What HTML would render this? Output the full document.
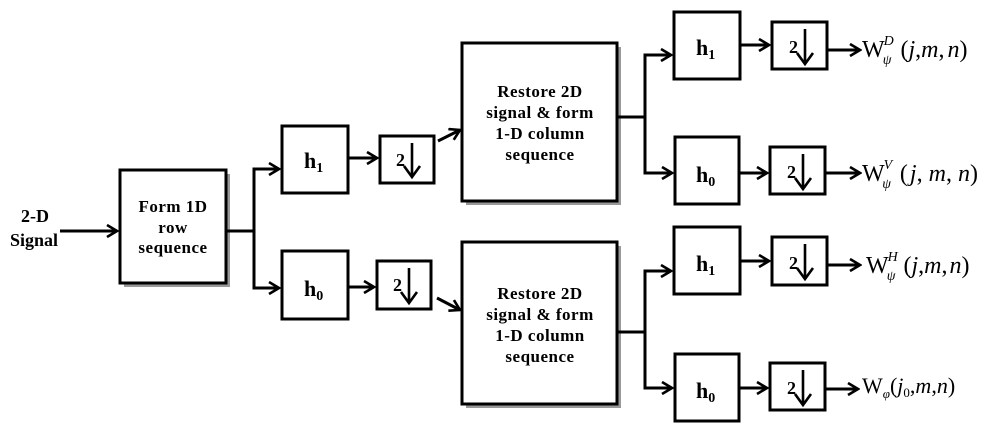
<!DOCTYPE html>
<html><head><meta charset="utf-8"><style>
html,body{margin:0;padding:0;background:#fff;width:1000px;height:431px;overflow:hidden}
svg{display:block}
text{font-family:"Liberation Serif",serif;fill:#000}
.b{font-weight:bold}
</style></head><body>
<svg width="1000" height="431" viewBox="0 0 1000 431" xmlns="http://www.w3.org/2000/svg">
<defs>
<marker id="a" markerWidth="14" markerHeight="14" refX="12" refY="7" orient="auto" markerUnits="userSpaceOnUse">
<path d="M2,1 L12,7 L2,13" fill="none" stroke="#000" stroke-width="2.6"/>
</marker>
</defs>
<g fill="none" stroke="#000" stroke-width="3">
<rect x="124" y="174" width="106" height="113" fill="#999" stroke="none"/>
<rect x="466" y="47" width="155" height="158" fill="#999" stroke="none"/>
<rect x="466" y="246" width="155" height="162" fill="#999" stroke="none"/>
<rect x="120" y="170" width="106" height="113" fill="#fff"/>
<rect x="462" y="43" width="155" height="158" fill="#fff"/>
<rect x="462" y="242" width="155" height="162" fill="#fff"/>
<rect x="282" y="126" width="66" height="67" fill="#fff"/>
<rect x="282" y="251" width="66" height="68" fill="#fff"/>
<rect x="380" y="136" width="54" height="47" fill="#fff"/>
<rect x="377" y="261" width="54" height="48" fill="#fff"/>
<rect x="674" y="12" width="66" height="67" fill="#fff"/>
<rect x="675" y="137" width="64" height="67" fill="#fff"/>
<rect x="772" y="22" width="55" height="47" fill="#fff"/>
<rect x="770" y="147" width="55" height="47" fill="#fff"/>
<rect x="674" y="227" width="66" height="67" fill="#fff"/>
<rect x="675" y="354" width="64" height="67" fill="#fff"/>
<rect x="772" y="237" width="55" height="48" fill="#fff"/>
<rect x="770" y="363" width="55" height="47" fill="#fff"/>
<line x1="60" y1="231" x2="117" y2="231" marker-end="url(#a)"/>
<path d="M226,231 H254 V169 H279" marker-end="url(#a)"/>
<path d="M254,231 V288 H279" marker-end="url(#a)"/>
<line x1="348" y1="158" x2="377" y2="158" marker-end="url(#a)"/>
<line x1="348" y1="287" x2="374" y2="287" marker-end="url(#a)"/>
<line x1="438" y1="141" x2="460" y2="130" marker-end="url(#a)"/>
<line x1="437" y1="298" x2="460" y2="310" marker-end="url(#a)"/>
<path d="M617,117 H645 V55 H671" marker-end="url(#a)"/>
<path d="M645,117 V173 H672" marker-end="url(#a)"/>
<path d="M617,332 H645 V271 H671" marker-end="url(#a)"/>
<path d="M645,332 V388 H672" marker-end="url(#a)"/>
<line x1="740" y1="45" x2="769" y2="45" marker-end="url(#a)"/>
<line x1="739" y1="173" x2="767" y2="173" marker-end="url(#a)"/>
<line x1="740" y1="261" x2="769" y2="261" marker-end="url(#a)"/>
<line x1="739" y1="388" x2="767" y2="388" marker-end="url(#a)"/>
<line x1="827" y1="50" x2="860" y2="50" marker-end="url(#a)"/>
<line x1="825" y1="173" x2="860" y2="173" marker-end="url(#a)"/>
<line x1="827" y1="265" x2="860" y2="265" marker-end="url(#a)"/>
<line x1="825" y1="389" x2="858" y2="389" marker-end="url(#a)"/>
</g>
<text class="b" x="35" y="222" font-size="18" text-anchor="middle">2-D</text>
<text class="b" x="34" y="246" font-size="18" text-anchor="middle">Signal</text>
<g class="b" font-size="17" text-anchor="middle" letter-spacing="0.5">
<text x="173" y="212">Form 1D</text>
<text x="173" y="233">row</text>
<text x="173" y="253">sequence</text>
<text x="540" y="97">Restore 2D</text>
<text x="540" y="118">signal &amp; form</text>
<text x="540" y="139">1-D column</text>
<text x="540" y="160">sequence</text>
<text x="540" y="299">Restore 2D</text>
<text x="540" y="320">signal &amp; form</text>
<text x="540" y="341">1-D column</text>
<text x="540" y="362">sequence</text>
</g>
<g class="b" font-size="22">
<text x="304" y="168">h<tspan font-size="14" dy="4">1</tspan></text>
<text x="304" y="296">h<tspan font-size="14" dy="4">0</tspan></text>
<text x="696" y="55">h<tspan font-size="14" dy="4">1</tspan></text>
<text x="696" y="182">h<tspan font-size="14" dy="4">0</tspan></text>
<text x="696" y="271">h<tspan font-size="14" dy="4">1</tspan></text>
<text x="696" y="398">h<tspan font-size="14" dy="4">0</tspan></text>
</g>
<g class="b" font-size="18">
<text x="396" y="166">2</text><text x="393" y="291">2</text>
<text x="789" y="53">2</text><text x="787" y="178">2</text>
<text x="789" y="269">2</text><text x="787" y="394">2</text>
</g>
<g fill="none" stroke="#000" stroke-width="2.6">
<path d="M412,143 V176 M404,166 L412,177 L420,166"/>
<path d="M409,268 V302 M401,292 L409,303 L417,292"/>
<path d="M805,29 V63 M797,53 L805,64 L813,53"/>
<path d="M803,154 V188 M795,178 L803,189 L811,178"/>
<path d="M805,244 V278 M797,268 L805,279 L813,268"/>
<path d="M803,370 V404 M795,394 L803,405 L811,394"/>
</g>
<g font-size="24">
<text x="862" y="57">W<tspan font-size="14" font-style="italic" dx="-1" dy="-12">D</tspan><tspan font-size="14" font-style="italic" dx="-11" dy="19">ψ</tspan><tspan dx="9" dy="-7">(</tspan><tspan font-style="italic">j</tspan>,<tspan font-style="italic">m</tspan>,<tspan font-style="italic" dx="3">n</tspan>)</text>
<text x="862" y="181">W<tspan font-size="14" font-style="italic" dx="-1" dy="-12">V</tspan><tspan font-size="14" font-style="italic" dx="-10" dy="19">ψ</tspan><tspan dx="9" dy="-7">(</tspan><tspan font-style="italic" dx="2">j</tspan>, <tspan font-style="italic">m</tspan>, <tspan font-style="italic">n</tspan>)</text>
<text x="866" y="273">W<tspan font-size="14" font-style="italic" dx="-1" dy="-12">H</tspan><tspan font-size="14" font-style="italic" dx="-11" dy="19">ψ</tspan><tspan dx="8" dy="-7">(</tspan><tspan font-style="italic">j</tspan>,<tspan font-style="italic">m</tspan>,<tspan font-style="italic" dx="2">n</tspan>)</text>
<text x="862" y="393" font-size="22">W<tspan font-size="13" font-style="italic" dy="5">φ</tspan><tspan dy="-5">(</tspan><tspan font-style="italic">j</tspan><tspan font-size="13" dy="4">0</tspan><tspan dy="-4">,</tspan><tspan font-style="italic">m</tspan>,<tspan font-style="italic">n</tspan>)</text>
</g>
</svg>
</body></html>
